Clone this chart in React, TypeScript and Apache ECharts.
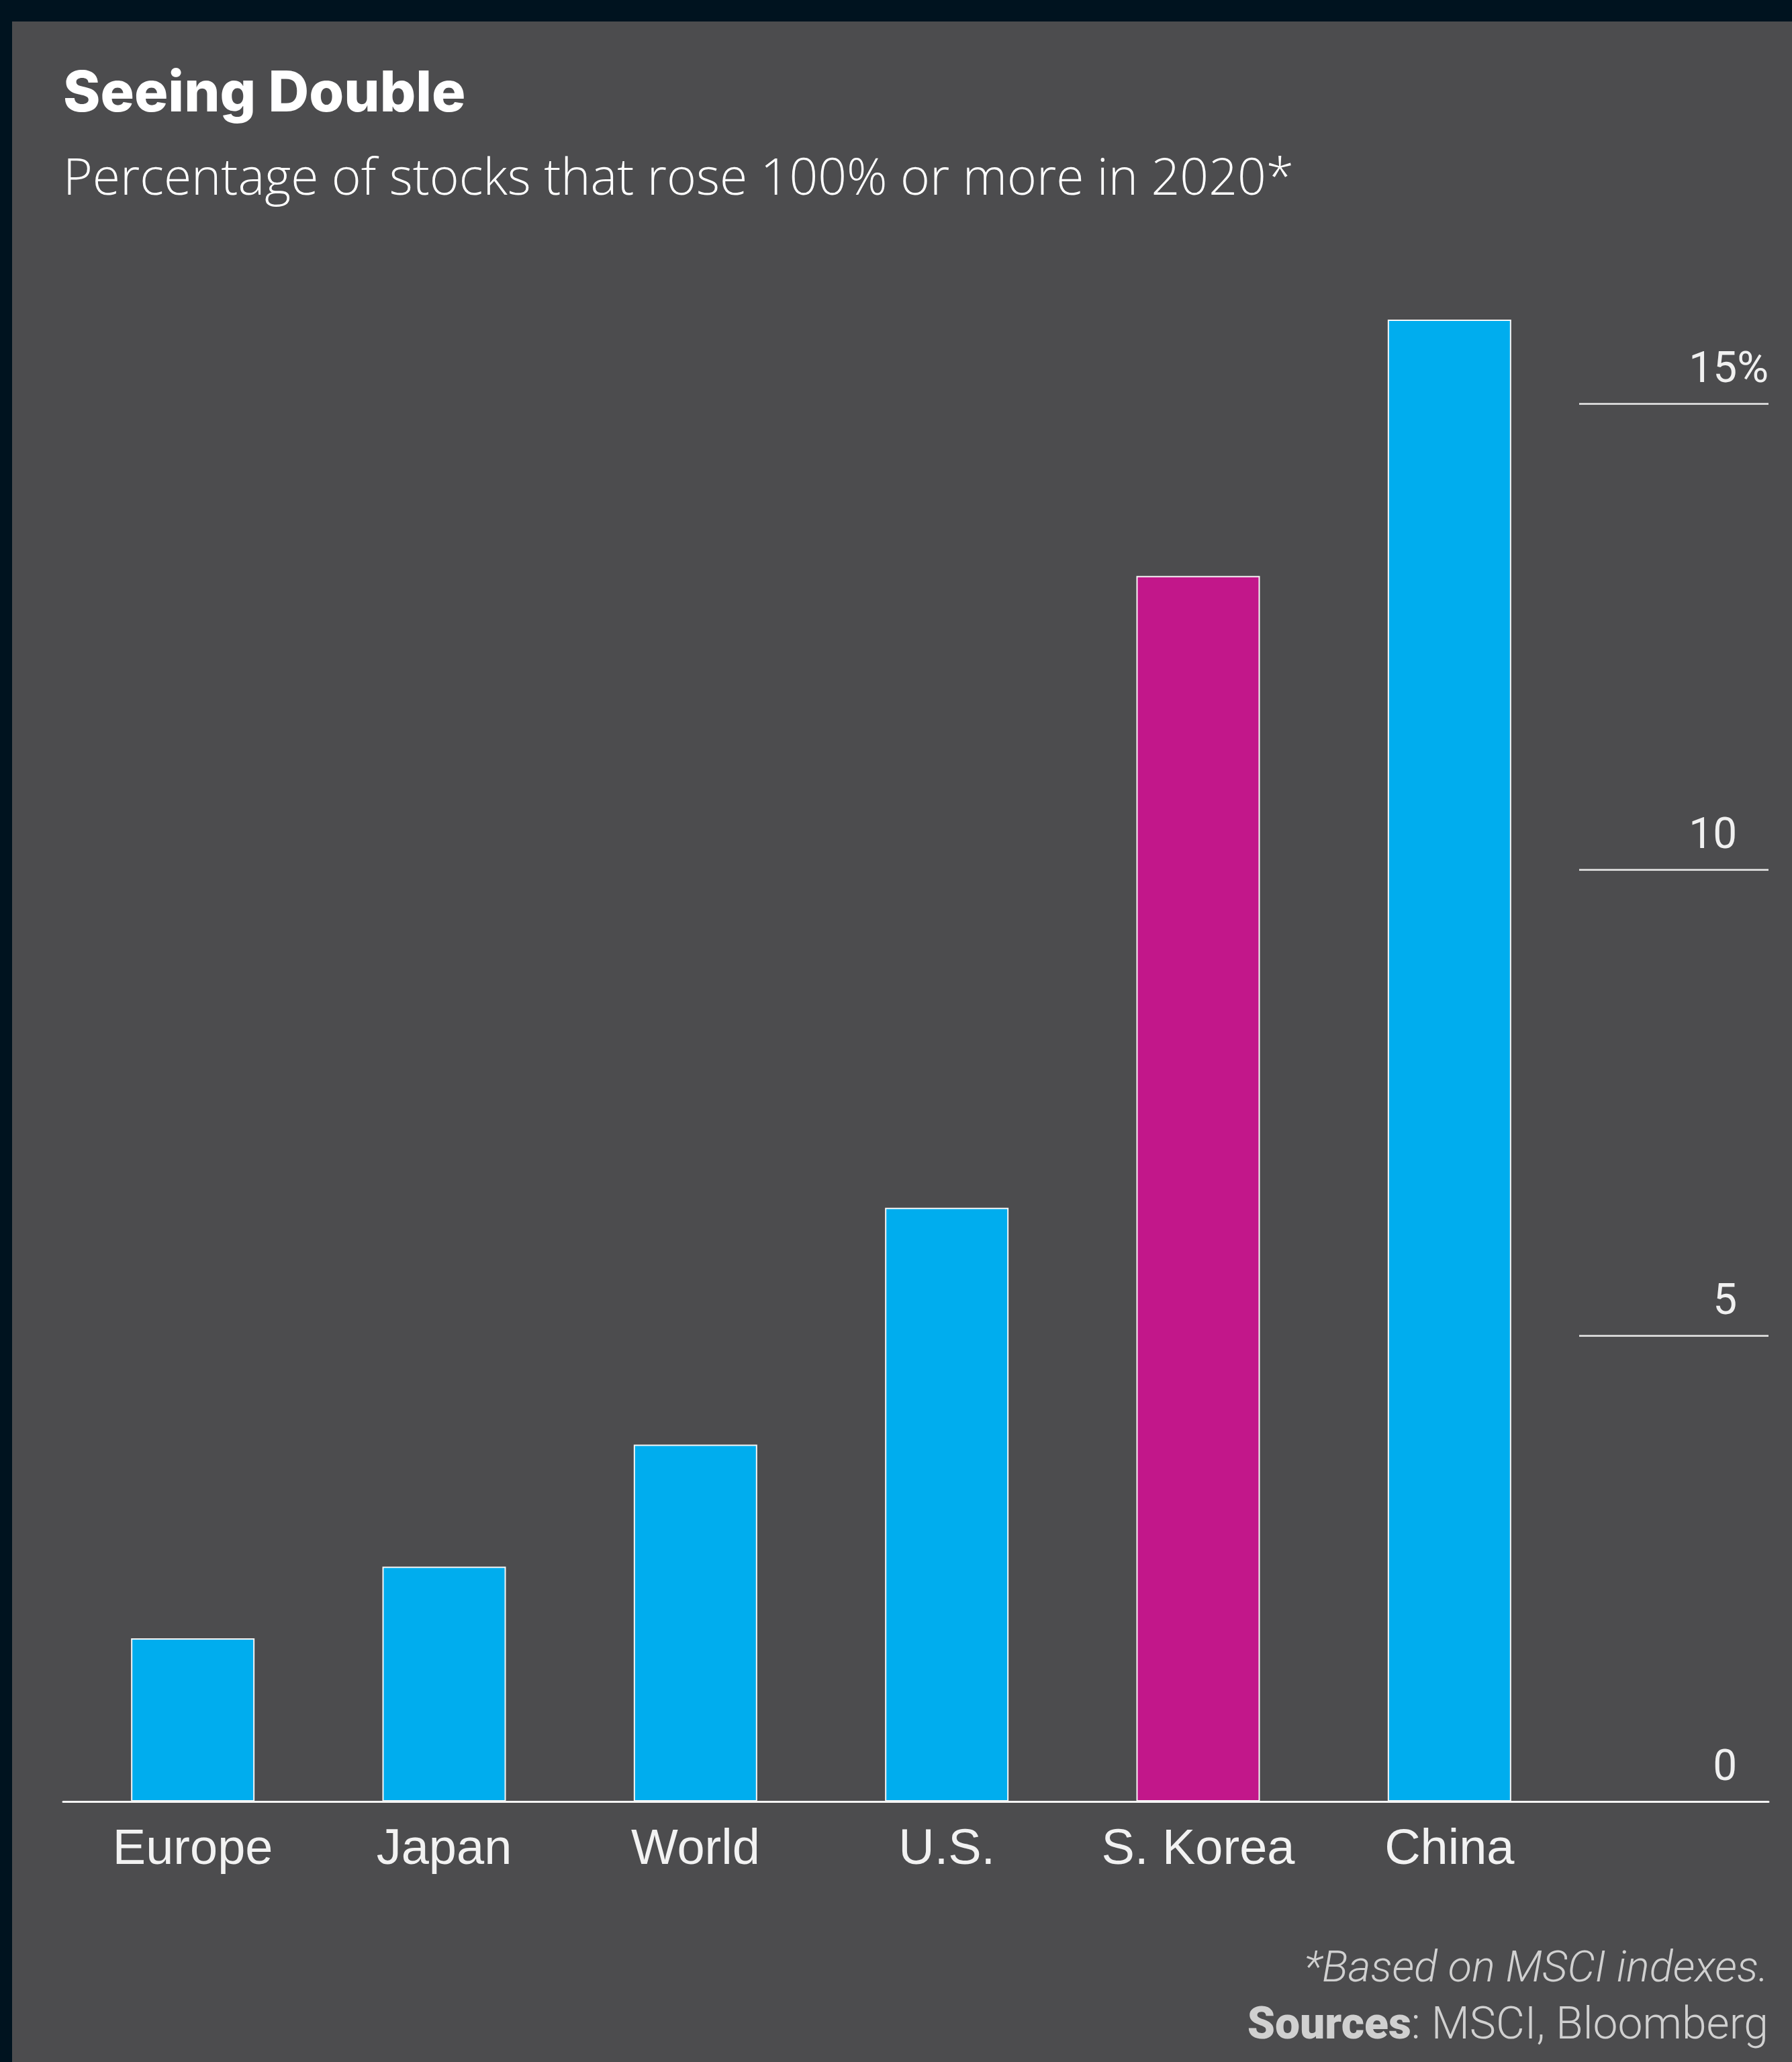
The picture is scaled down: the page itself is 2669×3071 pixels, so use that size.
import React, { useEffect, useRef } from "react";
import * as echarts from "echarts";

const categories = ["Europe", "Japan", "World", "U.S.", "S. Korea", "China"];
const values = [1.75, 2.52, 3.83, 6.37, 13.15, 15.9];
const barColors = ["#00adee", "#00adee", "#00adee", "#00adee", "#c2178a", "#00adee"];
const yMin = 0;
const yMax = 15;
const yInterval = 5;

const titleText = "Seeing Double";
const subtitleText = "Percentage of stocks that rose 100% or more in 2020*";
const noteText = "*Based on MSCI indexes.";
const sourceText = "{b|Sources}: MSCI, Bloomberg";

const W = 2669;
const H = 3071;

export default function App() {
  const ref = useRef<HTMLDivElement>(null);
  useEffect(() => {
    document.body.style.margin = "0";
    const chart = echarts.init(ref.current!, null, { renderer: "svg" });
    const gridTop = 601;
    const gridH = 2082;
    chart.setOption({
      animation: false,
      backgroundColor: "#00131f",
      graphic: [
        {
          type: "rect",
          z: -10,
          shape: { x: 18, y: 32, width: W - 18, height: H - 32 },
          style: { fill: "#4c4c4e" },
          silent: true,
        },
      ],
      title: [
        {
          text: titleText,
          left: 94,
          top: 93,
          padding: 0,
          textStyle: { fontFamily: "Inter", fontWeight: 800, fontSize: 84, lineHeight: 84, color: "#ffffff" },
        },
        {
          text: subtitleText,
          left: 94,
          top: 223,
          padding: 0,
          textStyle: { fontFamily: "Open Sans", fontWeight: 300, fontSize: 75, lineHeight: 75, color: "#ffffff" },
        },
        {
          text: noteText,
          right: 35,
          top: 2896,
          padding: 0,
          textStyle: { fontFamily: "Roboto", fontStyle: "italic", fontWeight: 300, fontSize: 65, lineHeight: 65, color: "#d0d0d0" },
        },
        {
          text: sourceText,
          right: 35,
          top: 2980,
          padding: 0,
          textStyle: {
            fontFamily: "Roboto",
            fontWeight: 300,
            fontSize: 66,
            lineHeight: 66,
            color: "#d0d0d0",
            rich: { b: { fontFamily: "Roboto", fontWeight: 900, fontSize: 66, lineHeight: 66, color: "#d0d0d0" } },
          },
        },
      ],
      grid: [
        { left: 100, top: gridTop, width: 2246, height: gridH },
        { left: 2352, top: gridTop, width: 282, height: gridH },
        { left: 94, top: gridTop, width: 2540, height: gridH },
      ],
      xAxis: [
        {
          type: "category",
          gridIndex: 0,
          data: categories,
          axisLine: { show: false },
          axisTick: { show: false },
          axisLabel: {
            margin: 30,
            fontFamily: "Liberation Sans",
            fontSize: 74,
            lineHeight: 74,
            color: "#f2f2f2",
          },
        },
        { type: "value", gridIndex: 1, show: false, min: 0, max: 1 },
        {
          type: "value",
          gridIndex: 2,
          min: 0,
          max: 1,
          axisLine: { show: true, lineStyle: { color: "#f5f5f5", width: 3 } },
          axisTick: { show: false },
          axisLabel: { show: false },
          splitLine: { show: false },
        },
      ],
      yAxis: [
        { type: "value", gridIndex: 0, min: yMin, max: yMax, interval: yInterval, show: false },
        {
          type: "value",
          gridIndex: 1,
          position: "right",
          min: yMin,
          max: yMax,
          interval: yInterval,
          axisLine: { show: false },
          axisTick: { show: false },
          splitLine: { show: true, lineStyle: { color: "#d4d4d4", width: 3 } },
          axisLabel: {
            inside: true,
            margin: 0,
            fontFamily: "Roboto",
            fontSize: 64,
            lineHeight: 64,
            color: "#f0f0f0",
            verticalAlign: "bottom",
            padding: [0, 0, 22, 0],
            formatter: (v: number) => (v === yMax ? `${v}%` : `${v}{h|%}`),
            rich: {
              h: { fontFamily: "Roboto", fontSize: 64, lineHeight: 64, color: "rgba(0,0,0,0)" },
            },
          },
        },
        { type: "value", gridIndex: 2, min: yMin, max: yMax, show: false },
      ],
      series: [
        {
          type: "bar",
          xAxisIndex: 0,
          yAxisIndex: 0,
          barWidth: 184,
          clip: false,
          data: values.map((v, i) => ({ value: v, itemStyle: { color: barColors[i] } })),
          itemStyle: { borderColor: "#f5f5f5", borderWidth: 2 },
        },
      ],
    });
    return () => chart.dispose();
  }, []);
  return <div ref={ref} style={{ width: W, height: H }} />;
}
